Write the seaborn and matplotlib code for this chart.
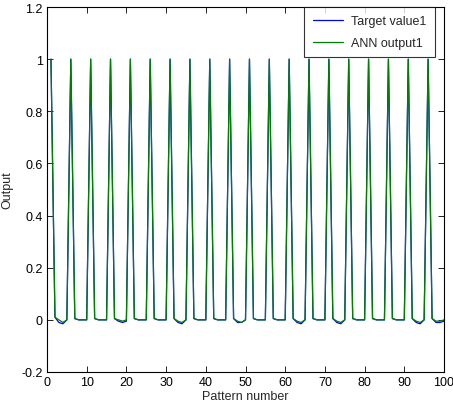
import numpy as np
import pandas as pd
import seaborn as sns
import matplotlib
matplotlib.use('Agg')
import matplotlib.pyplot as plt
from matplotlib.ticker import FormatStrFormatter

# pattern numbers 1..100
pattern = list(range(1, 101))

# target values, one period of five patterns per row
target_value1 = [
    1.00, 0.010, -0.010, -0.015, 0.000,
    1.00, 0.005, 0.000, 0.000, 0.000,
    1.00, 0.005, 0.000, 0.000, 0.000,
    1.00, 0.005, -0.005, -0.010, -0.005,
    1.00, 0.005, 0.000, 0.000, 0.000,
    1.00, 0.005, 0.000, 0.000, 0.000,
    1.00, 0.005, -0.010, -0.015, 0.000,
    1.00, 0.005, 0.000, 0.000, 0.000,
    1.00, 0.005, 0.000, 0.000, 0.000,
    1.00, 0.005, -0.010, -0.010, 0.000,
    1.00, 0.005, 0.000, 0.000, 0.000,
    1.00, 0.005, 0.000, 0.000, 0.000,
    1.00, 0.005, -0.010, -0.015, 0.000,
    1.00, 0.005, 0.000, 0.000, 0.000,
    1.00, 0.005, -0.010, -0.015, 0.000,
    1.00, 0.005, 0.000, 0.000, 0.000,
    1.00, 0.005, 0.000, 0.000, 0.000,
    1.00, 0.005, 0.000, 0.000, 0.000,
    1.00, 0.005, -0.010, -0.015, 0.000,
    1.00, 0.005, -0.010, -0.010, -0.005,
]

# network output, same layout
ann_output1 = [
    1.00, 0.010, 0.000, -0.010, 0.000,
    1.00, 0.005, 0.000, 0.000, 0.000,
    1.00, 0.005, 0.000, 0.000, 0.000,
    1.00, 0.005, 0.000, -0.005, 0.000,
    1.00, 0.005, 0.000, 0.000, 0.000,
    1.00, 0.005, 0.000, 0.000, 0.000,
    1.00, 0.005, -0.005, -0.010, 0.000,
    1.00, 0.005, 0.000, 0.000, 0.000,
    1.00, 0.005, 0.000, 0.000, 0.000,
    1.00, 0.005, -0.005, -0.010, 0.000,
    1.00, 0.005, 0.000, 0.000, 0.000,
    1.00, 0.005, 0.000, 0.000, 0.000,
    1.00, 0.005, -0.005, -0.010, 0.000,
    1.00, 0.005, 0.000, 0.000, 0.000,
    1.00, 0.005, -0.005, -0.010, 0.000,
    1.00, 0.005, 0.000, 0.000, 0.000,
    1.00, 0.005, 0.000, 0.000, 0.000,
    1.00, 0.005, 0.000, 0.000, 0.000,
    1.00, 0.005, -0.005, -0.010, 0.000,
    1.00, 0.005, -0.005, -0.005, 0.000,
]

sns.set_style('ticks')
plt.rcParams['font.family'] = ['Liberation Sans', 'DejaVu Sans']
plt.rcParams['font.size'] = 9

df = pd.DataFrame({'Pattern': pattern * 2,
                   'Output': target_value1 + ann_output1,
                   'Series': ['Target value1'] * 100 + ['ANN output1'] * 100})

fig = plt.figure(figsize=(4.53, 4.06), dpi=100)
ax = fig.add_axes([47 / 453, 33 / 406, 397 / 453, 365 / 406])

sns.lineplot(data=df, x='Pattern', y='Output', hue='Series',
             palette={'Target value1': '#0000ff', 'ANN output1': '#008000'},
             linewidth=0.9, ax=ax)

ax.set_xlim(0, 100)
ax.set_ylim(-0.2, 1.2)
ax.set_xticks(np.arange(0, 101, 10))
ax.set_yticks(np.arange(-0.2, 1.21, 0.2))
ax.yaxis.set_major_formatter(FormatStrFormatter('%g'))
ax.set_xlabel('Pattern number', labelpad=1)
ax.set_ylabel('Output', labelpad=6)

for s in ax.spines.values():
    s.set_visible(True)
    s.set_color('black')
    s.set_linewidth(0.8)
ax.tick_params(direction='in', top=True, right=True, length=4, width=0.6,
               colors='black', pad=3)

leg = ax.legend(loc='upper right', frameon=True, fancybox=False, handlelength=2.4,
                borderaxespad=0.0, borderpad=0.65, labelspacing=0.8, handletextpad=0.7)
leg.get_frame().set_edgecolor('black')
leg.get_frame().set_linewidth(0.8)
leg.set_title(None)
leg.set_bbox_to_anchor((0.977, 1.0))

fig.savefig('out.png', dpi=100)
